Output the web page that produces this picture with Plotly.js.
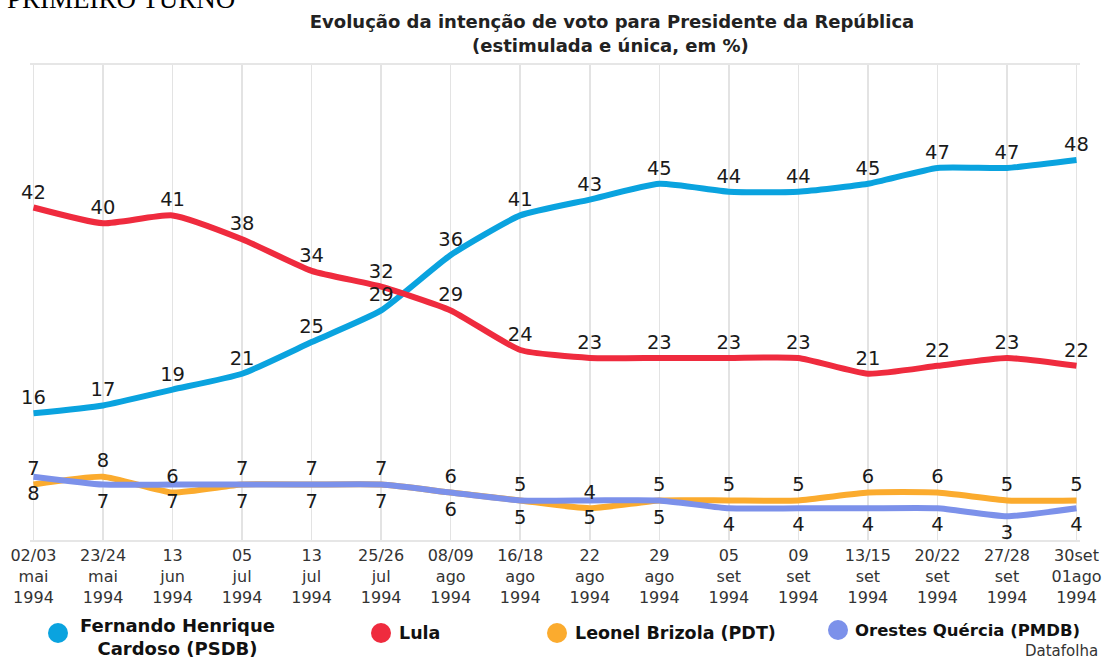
<!DOCTYPE html>
<html><head><meta charset="utf-8">
<script src="https://cdn.plot.ly/plotly-3.0.1.min.js"></script>
<style>html,body{margin:0;padding:0;background:#fff;}#chart{width:1109px;height:661px;}</style>
</head><body><div id="chart"></div>
<script>
// ---- data ----
const tickDays   = ["02/03","23/24","13","05","13","25/26","08/09","16/18","22","29","05","09","13/15","20/22","27/28","30set"];
const tickMonths = ["mai","mai","jun","jul","jul","jul","ago","ago","ago","ago","set","set","set","set","set","01ago"];
const tickYears  = ["1994","1994","1994","1994","1994","1994","1994","1994","1994","1994","1994","1994","1994","1994","1994","1994"];

const seriesNames = ["Fernando Henrique<br>Cardoso (PSDB)","Lula","Leonel Brizola (PDT)","Orestes Quércia (PMDB)"];
const fhc     = [16,17,19,21,25,29,36,41,43,45,44,44,45,47,47,48];
const lula    = [42,40,41,38,34,32,29,24,23,23,23,23,21,22,23,22];
const brizola = [7,8,6,7,7,7,6,5,4,5,5,5,6,6,5,5];
const quercia = [8,7,7,7,7,7,6,5,5,5,4,4,4,4,3,4];

const titleText = "Evolução da intenção de voto para Presidente da República";
const subtitleText = "(estimulada e única, em %)";
const headerText = "PRIMEIRO TURNO";
const sourceText = "Datafolha";

// ---- styling ----
const colors = ["#0aa3df","#ef2b3e","#fbab2e","#7c91ea"];
const W=1109, H=661, L=30, R=29, T=65, B=121;
const pw=W-L-R, ph=H-T-B;
const px2x = p => (p-L)/pw;
const px2y = p => (H-B-p)/ph;

const cats = tickDays.map((d,i)=>d+"<br>"+tickMonths[i]+"<br>"+tickYears[i]);
const seriesData = [fhc, lula, brizola, quercia];
const drawOrder = [0,2,3,1];
const labelPos = ["top center","top center","top center","bottom center"];
const labelPad = [5,5,6,12];

const traces = [];
drawOrder.forEach(i=>{
  traces.push({
    x: cats, y: seriesData[i], name: seriesNames[i], type:'scatter', mode:'lines',
    line:{color:colors[i], width:6, shape:'spline', smoothing:0.5},
    hoverinfo:'skip', showlegend:false
  });
});
[0,1,2,3].forEach(i=>{
  traces.push({
    x: cats, y: seriesData[i], type:'scatter', mode:'markers+text',
    marker:{size:labelPad[i], opacity:0},
    text: seriesData[i].map(String), textposition: labelPos[i],
    textfont:{family:'DejaVu Sans', size:19.5, color:'#1a1a1a'},
    cliponaxis:false, hoverinfo:'skip', showlegend:false
  });
});

const legendX = [58,381,557,838];
const legendTextX = [78,397,573,853];
const legendY = [633,633,633,630];
const legendSize = [18,17.5,17.5,16.5];
const shapes = [], annotations = [];
seriesNames.forEach((n,i)=>{
  shapes.push({type:'circle', xref:'paper', yref:'paper',
    x0:px2x(legendX[i]-10), x1:px2x(legendX[i]+10), y0:px2y(legendY[i]+10), y1:px2y(legendY[i]-10),
    fillcolor:colors[i], line:{width:0}});
  annotations.push({xref:'paper', yref:'paper', x:px2x(legendTextX[i]), xanchor:'left',
    y:px2y(i===0?637:legendY[i]), yanchor:'middle', text:n, align:'center', showarrow:false,
    font:{family:'DejaVu Sans', size:legendSize[i], weight:'bold', color:'#111'}});
});
annotations.push({xref:'paper', yref:'paper', x:px2x(610), xanchor:'center', y:px2y(45), yanchor:'middle',
  text:subtitleText, showarrow:false, font:{family:'DejaVu Sans', size:18, weight:'bold', color:'#222'}});
annotations.push({xref:'paper', yref:'paper', x:px2x(1100), xanchor:'right', y:px2y(651), yanchor:'middle',
  text:sourceText, showarrow:false, font:{family:'DejaVu Sans', size:15, color:'#333'}});
annotations.push({xref:'paper', yref:'paper', x:px2x(5), xanchor:'left', y:px2y(16), yanchor:'bottom',
  text:headerText, showarrow:false, font:{family:'Liberation Serif', size:27, color:'#000'}});

const layout = {
  width:W, height:H, margin:{l:L, r:R, t:T, b:B},
  paper_bgcolor:'#ffffff', plot_bgcolor:'#ffffff',
  title:{text:titleText, xref:'container', yref:'container', x:612/W, xanchor:'center', y:1-22/H, yanchor:'middle',
    font:{family:'DejaVu Sans', size:18, weight:'bold', color:'#222'}},
  xaxis:{type:'category', range:[-0.05,15.05], showgrid:true, gridcolor:'#e3e3e3', gridwidth:1.5,
    showline:true, mirror:true, linecolor:'#e6e6e6', linewidth:2, ticks:'', zeroline:false,
    tickfont:{family:'DejaVu Sans', size:16, color:'#333'}, fixedrange:true},
  yaxis:{range:[0,60], showgrid:false, showticklabels:false, zeroline:false, showline:false, fixedrange:true},
  showlegend:false, shapes:shapes, annotations:annotations
};
Plotly.newPlot('chart', traces, layout, {displayModeBar:false, staticPlot:true});
</script>
</body></html>
